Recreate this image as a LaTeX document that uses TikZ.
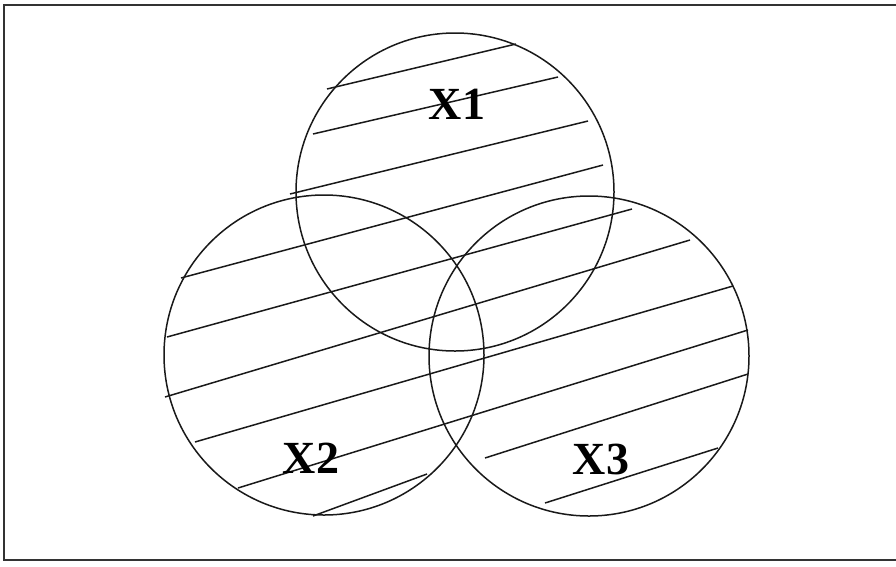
\documentclass[tikz,border=0pt]{standalone}
\usepackage{fontspec}
\setmainfont{Liberation Serif}

\tikzset{
    setline/.style={black!90, line width=1.5pt},
    hatchline/.style={black!90, line width=1.5pt},
    setlabel/.style={font=\fontsize{46}{46}\selectfont\bfseries, inner sep=0pt}
}

\begin{document}
\begin{tikzpicture}[x=1pt, y=-1pt]

    \useasboundingbox (0,0) rectangle (896,566);

    % ============================================================
    % FRAME
    % ============================================================
    \draw[black!80, line width=2.2pt] (4,5) rectangle (905,560);

    % ============================================================
    % HATCHING
    % ============================================================
    \draw[hatchline] (327,89) -- (516,44);
    \draw[hatchline] (313,134) -- (558,77);
    \draw[hatchline] (290,194) -- (588,121);
    \draw[hatchline] (181,278) -- (603,165);
    \draw[hatchline] (167,337) -- (632,209);
    \draw[hatchline] (165,397) -- (690,240);
    \draw[hatchline] (195,442) -- (733,286);
    \draw[hatchline] (238,488) -- (748,330);
    \draw[hatchline] (313,516) -- (427,474);
    \draw[hatchline] (485,458) -- (748,374);
    \draw[hatchline] (545,503) -- (718,448);

    % ============================================================
    % THE THREE SETS
    % ============================================================
    \draw[setline] (455,192) circle (159);
    \draw[setline] (324,355) circle (160);
    \draw[setline] (589,356) circle (160);

    \node[setlabel] (x1) at (457,104) {X1};
    \node[setlabel] (x2) at (311,458) {X2};
    \node[setlabel] (x3) at (601,459) {X3};

\end{tikzpicture}
\end{document}
